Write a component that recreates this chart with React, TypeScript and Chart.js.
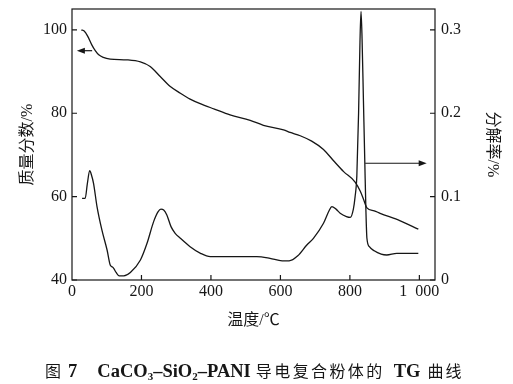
import React, { useEffect, useRef } from 'react';
import { Chart, registerables } from 'chart.js';

Chart.register(...registerables);

// TG curve: temperature (°C) vs mass fraction (%)
const tgTemp = [27, 35, 45, 57, 67, 77, 90, 110, 158, 197, 225, 254, 283, 312, 340, 369, 410, 455, 513, 551, 609, 628, 657, 690, 724, 753, 782, 815, 830, 840, 849, 870, 887, 945, 997];
const tgMass = [100, 99.7, 98.5, 96.4, 95, 94, 93.4, 93, 92.8, 92.3, 91.2, 88.8, 86.4, 84.8, 83.4, 82.3, 81, 79.6, 78.3, 77.1, 76.0, 75.4, 74.6, 73.3, 71.3, 68.6, 66.0, 63.5, 61.3, 59.2, 57.3, 56.6, 56.0, 54.2, 52.2];

// DTG curve: temperature (°C) vs decomposition rate (%)
const dtgTemp = [29, 38, 44, 51, 56, 62, 72, 86, 101, 110, 115, 120, 127, 136, 149, 168, 197, 216, 235, 248, 256, 264, 273, 285, 297, 312, 340, 370, 398, 455, 532, 570, 605, 625, 650, 676, 695, 724, 740, 748, 760, 772, 790, 801, 810, 815, 820, 825, 829, 832, 835, 839, 843, 846, 849, 856, 870, 890, 906, 935, 960, 997];
const dtgRate = [0.098, 0.098, 0.115, 0.131, 0.126, 0.116, 0.088, 0.060, 0.036, 0.018, 0.016, 0.014, 0.009, 0.005, 0.005, 0.009, 0.024, 0.044, 0.070, 0.082, 0.085, 0.084, 0.078, 0.064, 0.056, 0.050, 0.040, 0.032, 0.028, 0.028, 0.028, 0.026, 0.023, 0.023, 0.029, 0.042, 0.050, 0.068, 0.083, 0.088, 0.085, 0.080, 0.076, 0.075, 0.085, 0.100, 0.125, 0.200, 0.285, 0.322, 0.290, 0.215, 0.140, 0.085, 0.050, 0.040, 0.035, 0.031, 0.030, 0.032, 0.032, 0.032];

// Tick values
const xTicks = [0, 200, 400, 600, 800, 1000];
const leftTicks = [40, 60, 80, 100];
const rightTicks = [0, 0.1, 0.2, 0.3];

// Arrows: [x from, x to, y value]
const leftArrow = [58, 14, 95];
const rightArrow = [844, 1021, 0.14];

const INK = '#161616';
const tickFont = { family: "'Liberation Serif', 'Times New Roman', serif", size: 16 };
const titleFont = { family: "'Liberation Serif', 'Noto Sans CJK SC', serif", size: 16 };

function drawArrow(ctx: CanvasRenderingContext2D, x1: number, y1: number, x2: number, y2: number) {
  const dir = Math.sign(x2 - x1);
  const head = 8;
  ctx.beginPath();
  ctx.moveTo(x1, y1);
  ctx.lineTo(x2 - dir * head * 0.6, y2);
  ctx.stroke();
  ctx.beginPath();
  ctx.moveTo(x2, y2);
  ctx.lineTo(x2 - dir * head, y2 - 3);
  ctx.lineTo(x2 - dir * head, y2 + 3);
  ctx.closePath();
  ctx.fill();
}

const framePlugin = {
  id: 'frame',
  afterDatasetsDraw(chart: any) {
    const { ctx, chartArea: a, scales } = chart;
    ctx.save();
    ctx.strokeStyle = INK;
    ctx.fillStyle = INK;
    ctx.lineWidth = 1.2;
    ctx.strokeRect(a.left, a.top, a.right - a.left, a.bottom - a.top);
    const L = 5;
    ctx.beginPath();
    xTicks.forEach((v) => {
      if (v === 0) return;
      const px = scales.x.getPixelForValue(v);
      ctx.moveTo(px, a.bottom);
      ctx.lineTo(px, a.bottom - L);
    });
    leftTicks.forEach((v) => {
      const py = scales.y.getPixelForValue(v);
      ctx.moveTo(a.left, py);
      ctx.lineTo(a.left + L, py);
    });
    rightTicks.forEach((v) => {
      const py = scales.y2.getPixelForValue(v);
      ctx.moveTo(a.right, py);
      ctx.lineTo(a.right - L, py);
    });
    ctx.stroke();
    const ly = scales.y.getPixelForValue(leftArrow[2]);
    drawArrow(ctx, scales.x.getPixelForValue(leftArrow[0]), ly, scales.x.getPixelForValue(leftArrow[1]), ly);
    const ry = scales.y2.getPixelForValue(rightArrow[2]);
    drawArrow(ctx, scales.x.getPixelForValue(rightArrow[0]), ry, scales.x.getPixelForValue(rightArrow[1]), ry);
    ctx.restore();
  },
};

export default function App() {
  const ref = useRef<HTMLCanvasElement | null>(null);

  useEffect(() => {
    if (!ref.current) return;
    const fixV = (w: number) => (s: any) => { s.width = w; s.paddingTop = 0; s.paddingBottom = 0; };
    const chart = new Chart(ref.current, {
      type: 'line',
      data: {
        datasets: [
          {
            label: 'TG',
            data: tgTemp.map((t, i) => ({ x: t, y: tgMass[i] })),
            yAxisID: 'y',
            borderColor: INK,
            borderWidth: 1.3,
            pointRadius: 0,
            fill: false,
            cubicInterpolationMode: 'monotone',
          },
          {
            label: 'DTG',
            data: dtgTemp.map((t, i) => ({ x: t, y: dtgRate[i] })),
            yAxisID: 'y2',
            borderColor: INK,
            borderWidth: 1.3,
            pointRadius: 0,
            fill: false,
            cubicInterpolationMode: 'monotone',
          },
        ],
      },
      options: {
        responsive: false,
        animation: false,
        layout: { padding: { top: 9, left: 0, right: 0, bottom: 52 } },
        plugins: { legend: { display: false }, tooltip: { enabled: false }, title: { display: false } },
        scales: {
          x: {
            type: 'linear',
            min: 0,
            max: 1045,
            grid: { display: false, drawTicks: false },
            border: { display: false },
            afterBuildTicks: (s: any) => { s.ticks = xTicks.map((value) => ({ value })); },
            afterFit: (s: any) => { s.height = 52; s.paddingLeft = 0; s.paddingRight = 0; },
            ticks: {
              color: INK,
              font: tickFont,
              padding: 2,
              maxRotation: 0,
              autoSkip: false,
              callback: (v: any) => (v === 1000 ? '1\u2002000' : String(v)),
            },
            title: { display: true, text: '温度/℃', color: INK, font: titleFont, padding: { top: 0, bottom: 2 } },
          },
          y: {
            type: 'linear',
            position: 'left',
            min: 40,
            max: 105,
            grid: { display: false, drawTicks: false },
            border: { display: false },
            afterBuildTicks: (s: any) => { s.ticks = leftTicks.map((value) => ({ value })); },
            afterFit: fixV(72),
            ticks: { color: INK, font: tickFont, padding: 5, autoSkip: false },
            title: { display: true, text: '质量分数/%', color: INK, font: titleFont, padding: { top: 18, bottom: 0 } },
          },
          y2: {
            type: 'linear',
            position: 'right',
            min: 0,
            max: 0.325,
            grid: { display: false, drawTicks: false },
            border: { display: false },
            afterBuildTicks: (s: any) => { s.ticks = rightTicks.map((value) => ({ value })); },
            afterFit: fixV(78),
            ticks: {
              color: INK,
              font: tickFont,
              padding: 6,
              autoSkip: false,
              callback: (v: any) => (v === 0 ? '0' : Number(v).toFixed(1)),
            },
            title: { display: true, text: '分解率/%', color: INK, font: titleFont, padding: { top: 11, bottom: 0 } },
          },
        },
      },
      plugins: [framePlugin],
    } as any);
    return () => chart.destroy();
  }, []);

  const latin = { fontWeight: 700, fontSize: 18.5, fontFamily: "'Liberation Serif', serif" } as const;
  const sub = { fontSize: 11, verticalAlign: '-3px' } as const;
  const cjk = { fontSize: 16, fontFamily: "'Noto Sans CJK SC', sans-serif" } as const;
  return (
    <div style={{ position: 'absolute', left: 0, top: 0, width: 513, height: 384, background: '#fff' }}>
      <canvas ref={ref} width={513} height={384} style={{ display: 'block' }} />
      <div
        style={{
          position: 'absolute',
          left: 45,
          top: 358,
          width: 468,
          textAlign: 'left',
          lineHeight: '24px',
          color: INK,
          whiteSpace: 'nowrap',
        }}
      >
        <span style={{ ...cjk, marginRight: 7 }}>图</span>
        <span style={{ ...latin, marginRight: 20 }}>7</span>
        <span style={{ ...latin, marginRight: 5 }}>
          CaCO<sub style={sub}>3</sub>–SiO<sub style={sub}>2</sub>–PANI
        </span>
        <span style={{ ...cjk, letterSpacing: 2.4, marginRight: 9 }}>导电复合粉体的</span>
        <span style={{ ...latin, marginRight: 7 }}>TG</span>
        <span style={{ ...cjk, letterSpacing: 2 }}>曲线</span>
      </div>
    </div>
  );
}
